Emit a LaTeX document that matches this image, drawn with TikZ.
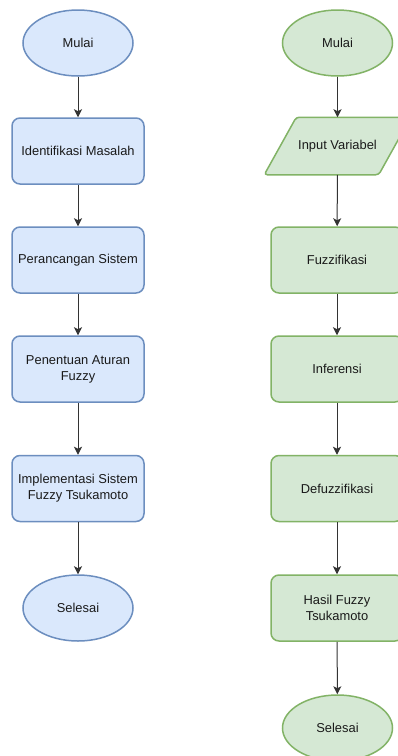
\documentclass[tikz,border=0pt]{standalone}
\usepackage{fontspec}
\setmainfont{Liberation Sans}
\usetikzlibrary{shapes.geometric,arrows.meta}
\definecolor{bfill}{HTML}{DAE8FC}
\definecolor{bline}{HTML}{6C8EBF}
\definecolor{gfill}{HTML}{D5E8D4}
\definecolor{gline}{HTML}{82B366}
\definecolor{txt}{HTML}{1A1A1A}
\definecolor{arrc}{HTML}{333333}
\tikzset{
  base/.style={inner sep=0pt, line width=1.5pt, text=txt, align=center,
    font=\fontsize{12.9}{16}\selectfont},
  bterm/.style={base, ellipse, draw=bline, fill=bfill, minimum width=110pt, minimum height=66pt},
  gterm/.style={base, ellipse, draw=gline, fill=gfill, minimum width=110pt, minimum height=66pt},
  bproc/.style={base, rectangle, rounded corners=8pt, draw=bline, fill=bfill, minimum width=132pt, minimum height=66pt},
  gproc/.style={base, rectangle, rounded corners=8pt, draw=gline, fill=gfill, minimum width=132pt, minimum height=66pt},
  ioin/.style={base, rectangle, minimum width=113pt, minimum height=56pt},
  arr/.style={draw=arrc, line width=1pt, -{Stealth[length=8pt,width=8pt,inset=2pt]}}
}
\begin{document}
\begin{tikzpicture}[x=1pt,y=-1pt]
\useasboundingbox (0,0) rectangle (398,756);
\clip (0,0) rectangle (398,756);
\fill[white] (0,0) rectangle (398,756);
% left column
\node[bterm] (lm) at (78,43) {Mulai};
\node[bproc] (l1) at (78,151) {Identifikasi Masalah};
\node[bproc] (l2) at (78,260) {Perancangan Sistem};
\node[bproc] (l3) at (78,369) {Penentuan Aturan\\Fuzzy};
\node[bproc] (l4) at (78,488.5) {Implementasi Sistem\\Fuzzy Tsukamoto};
\node[bterm] (le) at (78,608) {Selesai};
% right column
\node[gterm] (rm) at (337.5,43) {Mulai};
\node[ioin] (r1) at (337.5,146) {};
\draw[line width=1.5pt, draw=gline, fill=gfill, rounded corners=3pt]
  ([xshift=16pt]r1.north west) -- ([xshift=16pt]r1.north east)
  -- ([xshift=-16pt]r1.south east) -- ([xshift=-16pt]r1.south west) -- cycle;
\node[ioin] at (r1) {Input Variabel};
\node[gproc] (r2) at (337,260) {Fuzzifikasi};
\node[gproc] (r3) at (337,369) {Inferensi};
\node[gproc] (r4) at (337,488.5) {Defuzzifikasi};
\node[gproc] (r5) at (337,608) {Hasil Fuzzy\\Tsukamoto};
\node[gterm] (re) at (337.5,728) {Selesai};
% connectors
\draw[arr] (lm) -- (l1);
\draw[arr] (l1) -- (l2);
\draw[arr] (l2) -- (l3);
\draw[arr] (l3) -- (l4);
\draw[arr] (l4) -- (le);
\draw[arr] (rm) -- (r1);
\draw[arr] (r1) -- (r2);
\draw[arr] (r2) -- (r3);
\draw[arr] (r3) -- (r4);
\draw[arr] (r4) -- (r5);
\draw[arr] (r5) -- (re);
\end{tikzpicture}
\end{document}
